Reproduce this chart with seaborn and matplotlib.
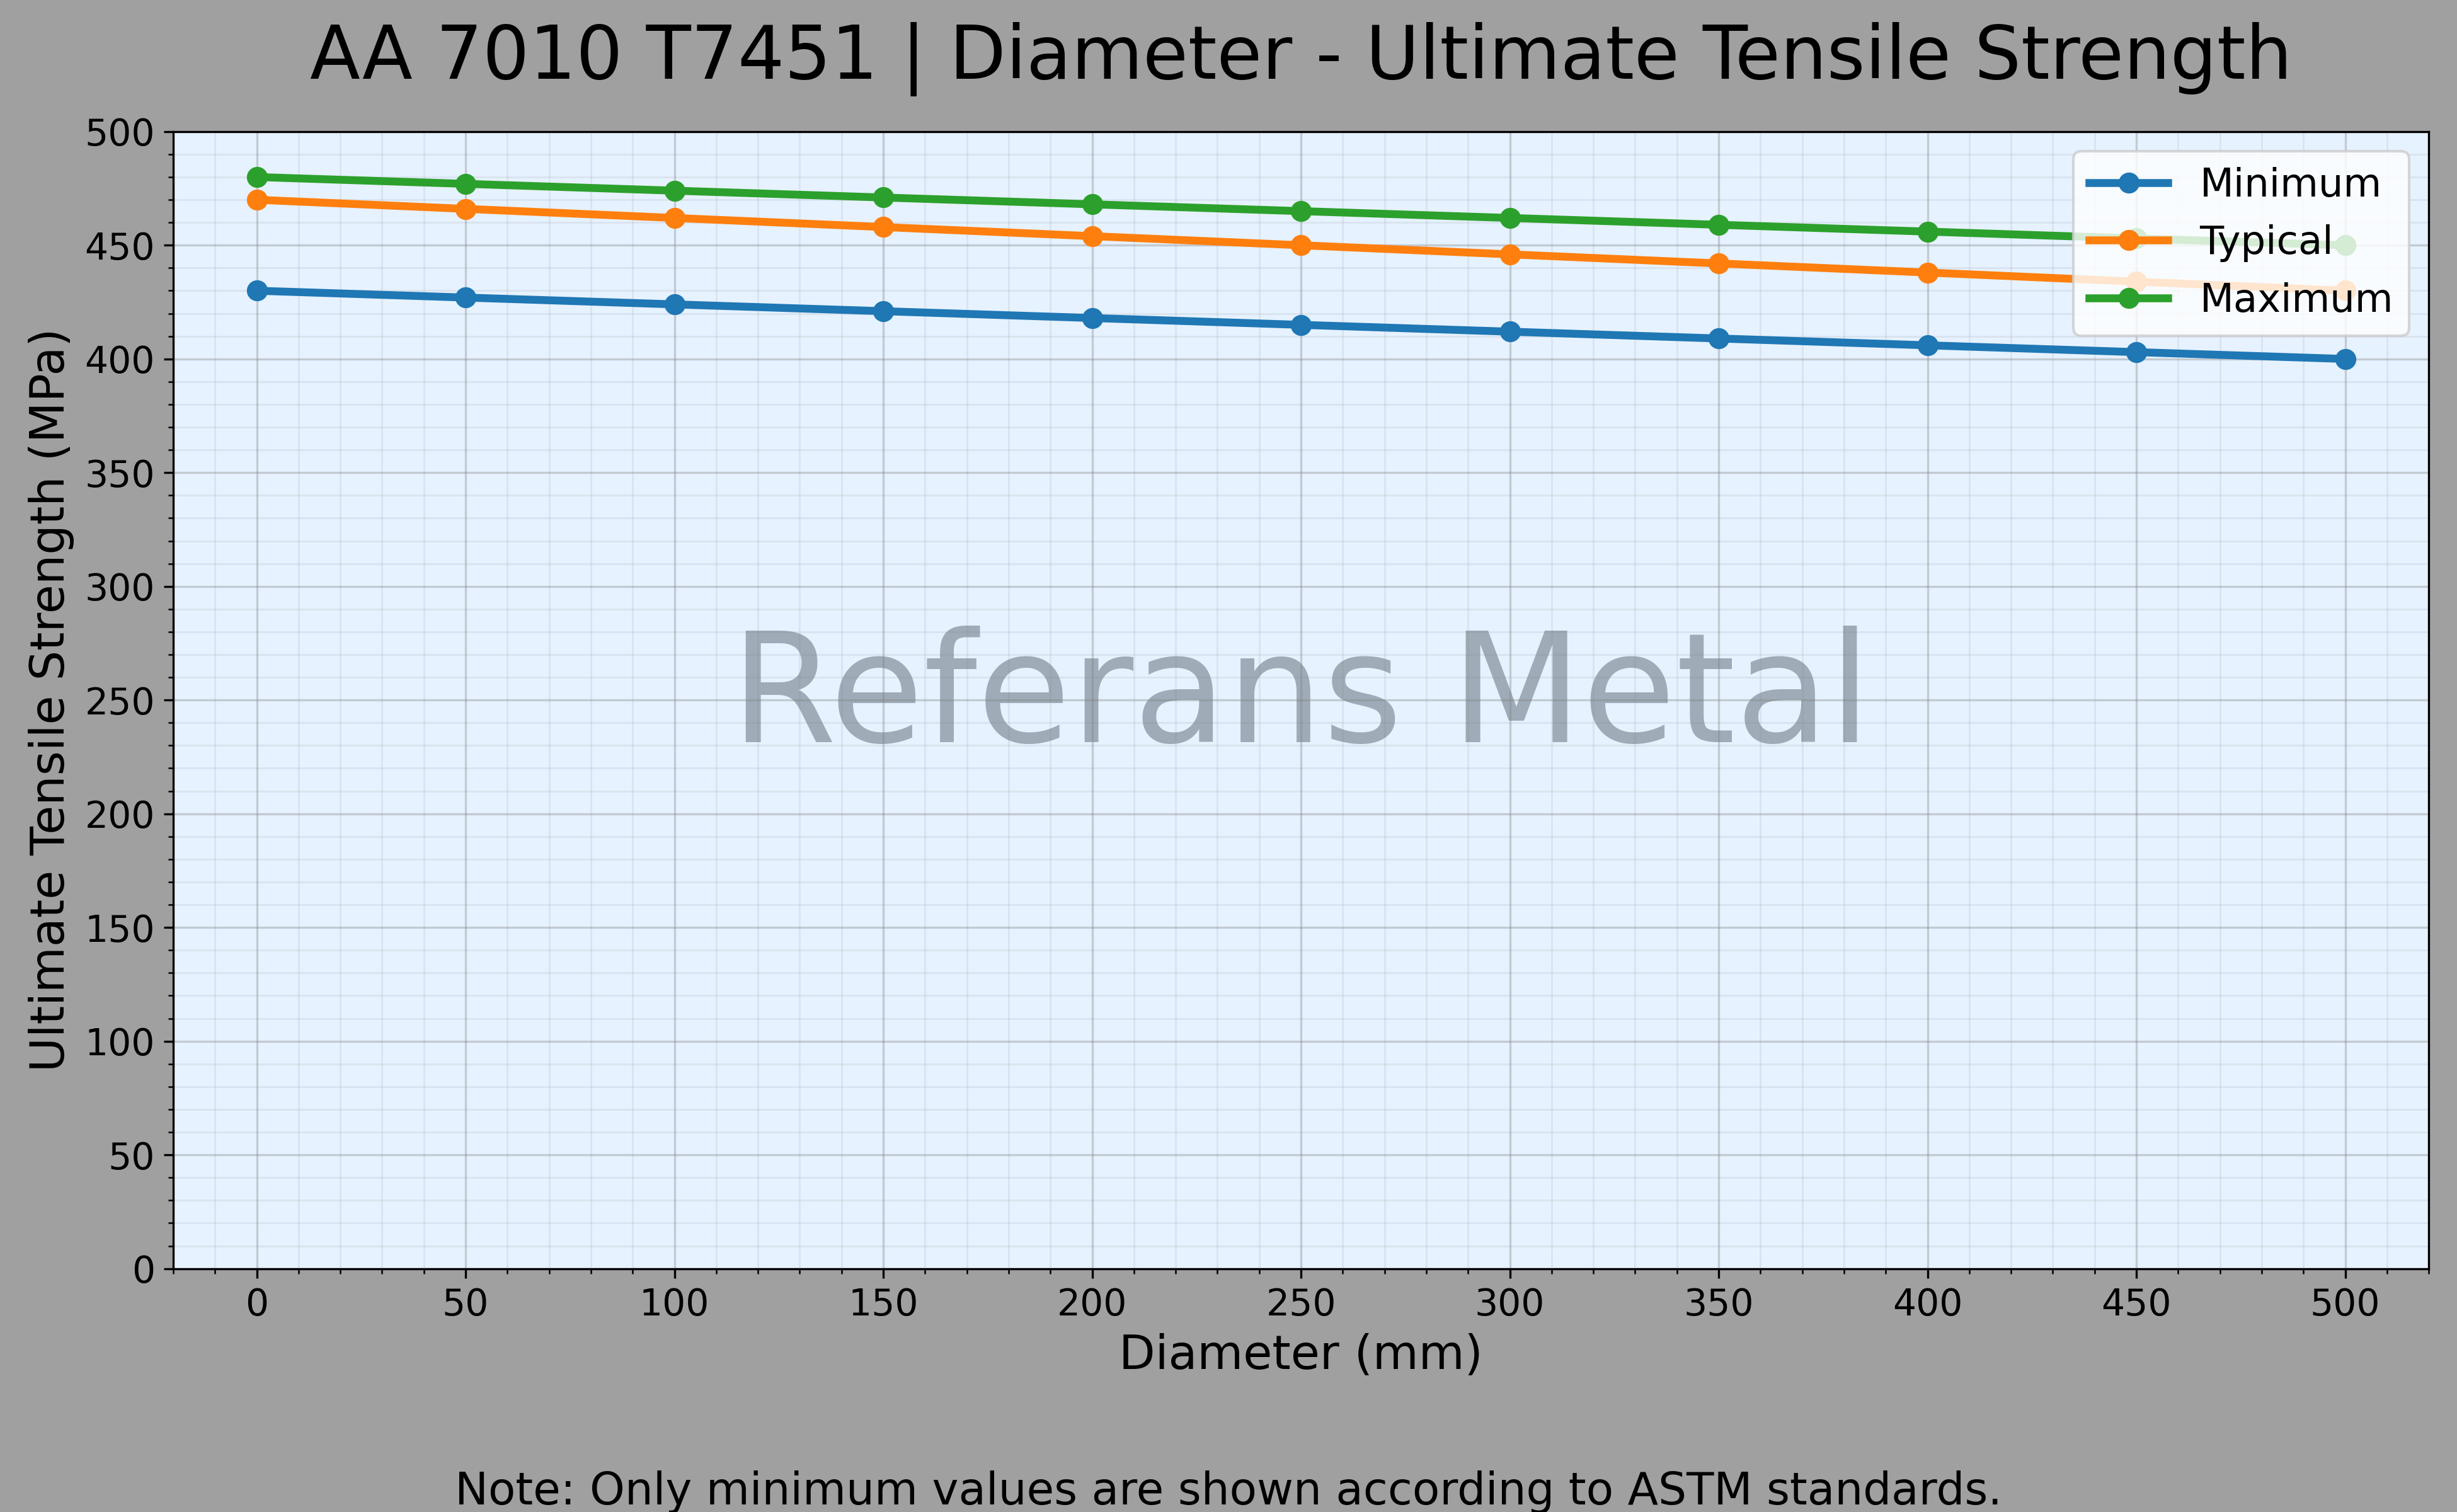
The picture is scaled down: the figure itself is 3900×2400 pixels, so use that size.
import pandas as pd
import seaborn as sns
import matplotlib
matplotlib.use('Agg')
import matplotlib.pyplot as plt
from matplotlib.ticker import MultipleLocator

# data
diameters = [0, 50, 100, 150, 200, 250, 300, 350, 400, 450, 500]
uts_minimum = [430, 427, 424, 421, 418, 415, 412, 409, 406, 403, 400]
uts_typical = [470, 466, 462, 458, 454, 450, 446, 442, 438, 434, 430]
uts_maximum = [480, 477, 474, 471, 468, 465, 462, 459, 456, 453, 450]
series_names = ['Minimum', 'Typical', 'Maximum']

title_text = 'AA 7010 T7451 | Diameter - Ultimate Tensile Strength'
note_text = 'Note: Only minimum values are shown according to ASTM standards.'

# long form table for seaborn
frames = []
for name, vals in zip(series_names, [uts_minimum, uts_typical, uts_maximum]):
    frames.append(pd.DataFrame({'Diameter': diameters, 'UTS': vals, 'Series': name}))
df = pd.concat(frames, ignore_index=True)

fig, ax = plt.subplots(figsize=(13, 8), dpi=300)
fig.patch.set_facecolor('#a0a0a0')
ax.set_facecolor('#e6f2ff')

sns.lineplot(
    data=df, x='Diameter', y='UTS', hue='Series', hue_order=series_names,
    palette=sns.color_palette('tab10', 3), marker='o', markersize=8,
    markeredgewidth=0, linewidth=3, ax=ax
)

# watermark behind the grid
ax.text(0.5, 0.5, 'Referans Metal', transform=ax.transAxes, fontsize=58,
        color='#4a5560', alpha=0.45, ha='center', va='center', zorder=0)

ax.set_xlim(-20, 520)
ax.set_ylim(0, 500)
ax.xaxis.set_major_locator(MultipleLocator(50))
ax.yaxis.set_major_locator(MultipleLocator(50))
ax.xaxis.set_minor_locator(MultipleLocator(10))
ax.yaxis.set_minor_locator(MultipleLocator(10))
ax.grid(which='major', color='gray', alpha=0.35, linewidth=0.8)
ax.grid(which='minor', color='gray', alpha=0.12, linewidth=0.7)
ax.tick_params(axis='both', which='major', labelsize=14)

ax.set_title(title_text, fontsize=28, pad=20)
ax.set_xlabel('Diameter (mm)', fontsize=18)
ax.set_ylabel('Ultimate Tensile Strength (MPa)', fontsize=18)

handles, labels = ax.get_legend_handles_labels()
ax.legend(handles, labels, loc='upper right', fontsize=15)

fig.text(0.5, 0.005, note_text, ha='center', va='baseline', fontsize=17)

plt.subplots_adjust(left=0.0705, right=0.9885, bottom=0.161, top=0.913)
fig.savefig('out.png', dpi=300, facecolor=fig.get_facecolor())
